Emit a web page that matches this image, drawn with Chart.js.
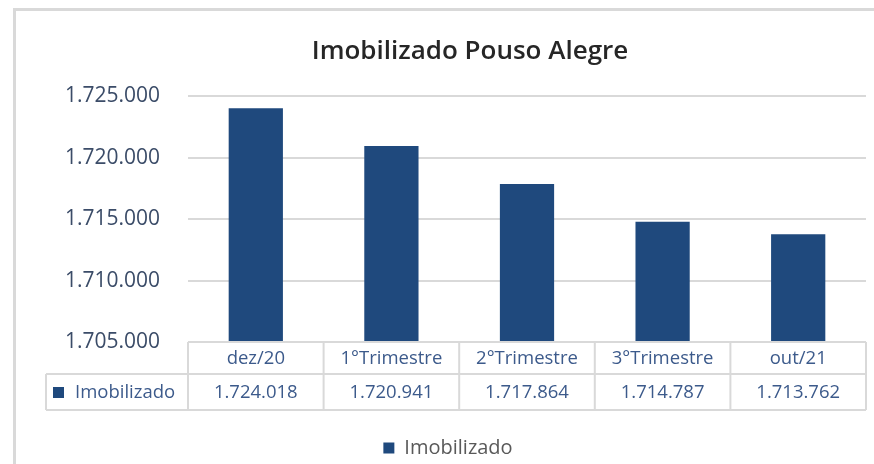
<!DOCTYPE html>
<html>
<head>
<meta charset="utf-8">
<script src="https://cdn.jsdelivr.net/npm/chart.js@4.4.0/dist/chart.umd.min.js"></script>
<style>
html, body { margin: 0; padding: 0; background: #fff; }
#wrap { width: 874px; height: 464px; position: relative; }
</style>
</head>
<body>
<div id="wrap"><canvas id="imobChart" width="874" height="464"></canvas></div>
<script>
const chartTitle = "Imobilizado Pouso Alegre";
const seriesName = "Imobilizado";
const categories = ["dez/20", "1°Trimestre", "2°Trimestre", "3°Trimestre", "out/21"];
const imobilizado = [1724018, 1720941, 1717864, 1714787, 1713762];
const yTicks = [1705000, 1710000, 1715000, 1720000, 1725000];

const FONT = "'Open Sans', 'Noto Sans', sans-serif";
const BAR_COLOR = "#1f497d";
const LINE_COLOR = "#d9d9d9";

function formatBR(v) {
    return String(Math.round(v)).replace(/\B(?=(\d{3})+(?!\d))/g, ".");
}

// light frame round the chart (left and top edges visible)
const frame = {
    id: "frame",
    beforeDraw(chart) {
        const ctx = chart.ctx;
        ctx.save();
        ctx.fillStyle = "#fff";
        ctx.fillRect(0, 0, chart.width, chart.height);
        ctx.strokeStyle = LINE_COLOR;
        ctx.lineWidth = 3;
        ctx.beginPath();
        ctx.moveTo(14.5, chart.height);
        ctx.lineTo(14.5, 9.5);
        ctx.lineTo(chart.width, 9.5);
        ctx.stroke();
        ctx.restore();
    },
    // the original centres title and legend a bit to the right
    afterLayout(chart) {
        if (chart.titleBlock) {
            chart.titleBlock.left += 37;
            chart.titleBlock.right += 37;
        }
        if (chart.legend) {
            chart.legend.left += 15;
            chart.legend.right += 15;
            chart.legend.top += 4;
            chart.legend.bottom += 4;
        }
    },
};

// data table under the plot, columns follow the x scale
const dataTable = {
    id: "dataTable",
    afterDraw(chart) {
        const ctx = chart.ctx;
        const area = chart.chartArea;
        const xs = chart.scales.x;
        const n = categories.length;
        const colW = (area.right - area.left) / n;
        const top = area.bottom;
        const mid = top + 32;
        const bot = top + 68;
        const left = 46;

        ctx.save();
        ctx.strokeStyle = LINE_COLOR;
        ctx.lineWidth = 2;
        ctx.beginPath();
        ctx.moveTo(area.left, top); ctx.lineTo(area.right, top);
        ctx.moveTo(left, mid); ctx.lineTo(area.right, mid);
        ctx.moveTo(left, bot); ctx.lineTo(area.right, bot);
        ctx.moveTo(left, mid); ctx.lineTo(left, bot);
        for (let i = 0; i <= n; i++) {
            const x = area.left + i * colW;
            ctx.moveTo(x, top); ctx.lineTo(x, bot);
        }
        ctx.stroke();

        ctx.font = "18.5px " + FONT;
        ctx.fillStyle = "#3c5a8b";
        ctx.textAlign = "center";
        ctx.textBaseline = "middle";
        categories.forEach((c, i) => {
            const x = xs.getPixelForValue(i);
            ctx.fillText(c, x, (top + mid) / 2 + 1);
            ctx.fillText(formatBR(imobilizado[i]), x, (mid + bot) / 2 + 1);
        });

        ctx.fillStyle = BAR_COLOR;
        ctx.fillRect(53, (mid + bot) / 2 - 5, 11, 11);
        ctx.fillStyle = "#3c5a8b";
        ctx.textAlign = "left";
        ctx.fillText(seriesName, 75, (mid + bot) / 2 + 1);
        ctx.restore();
    },
};

const ctx = document.getElementById("imobChart").getContext("2d");
new Chart(ctx, {
    type: "bar",
    data: {
        labels: categories,
        datasets: [
            {
                label: seriesName,
                data: imobilizado,
                backgroundColor: BAR_COLOR,
                borderWidth: 0,
                barPercentage: 0.4,
                categoryPercentage: 1,
            },
        ],
    },
    options: {
        responsive: false,
        animation: false,
        layout: {
            padding: { left: 0, right: 8, top: 0, bottom: 0 },
        },
        scales: {
            y: {
                min: 1705000,
                max: 1725000,
                afterBuildTicks: (scale) => {
                    scale.ticks = yTicks.map((v) => ({ value: v }));
                },
                afterFit: (scale) => {
                    scale.width = 188;
                },
                grid: {
                    color: LINE_COLOR,
                    lineWidth: 2,
                    drawTicks: false,
                },
                border: { display: false },
                ticks: {
                    padding: 28,
                    color: "#3b4c68",
                    font: { family: FONT, size: 21 },
                    callback: (value) => formatBR(value),
                },
            },
            x: {
                grid: { display: false },
                border: { display: false },
                ticks: { display: false },
                afterFit: (scale) => {
                    scale.height = 88;
                },
            },
        },
        plugins: {
            title: {
                display: true,
                text: chartTitle,
                color: "#262626",
                font: { family: FONT, size: 26, weight: "600" },
                padding: { top: 36, bottom: 29 },
            },
            legend: {
                display: true,
                position: "bottom",
                labels: {
                    color: "#595959",
                    boxWidth: 11,
                    boxHeight: 11,
                    padding: 4,
                    font: { family: FONT, size: 20 },
                },
            },
            tooltip: { enabled: false },
        },
    },
    plugins: [frame, dataTable],
});
</script>
</body>
</html>
